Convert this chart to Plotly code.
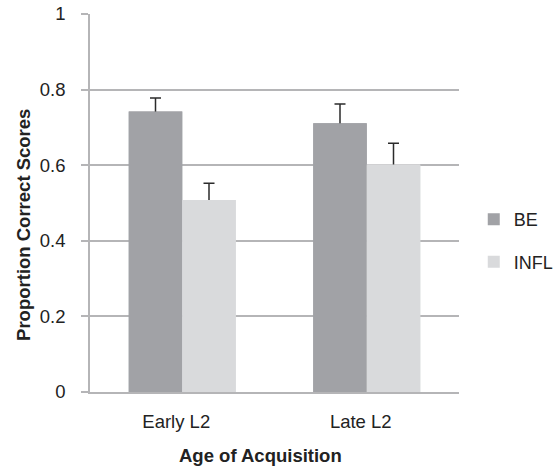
import plotly.graph_objects as go

categories = ["Early L2", "Late L2"]
be_values = [0.742, 0.711]
be_errors = [0.036, 0.051]
infl_values = [0.508, 0.602]
infl_errors = [0.044, 0.056]
y_ticks = [0, 0.2, 0.4, 0.6, 0.8, 1]

GRID = "#b5b5b7"
FONT = "Liberation Sans, Arial, sans-serif"
BE_COLOR = "#a1a2a6"
INFL_COLOR = "#d9dadc"

fig = go.Figure()
# bars carrying the error bars
for name, vals, errs, col, grp in [("BE", be_values, be_errors, BE_COLOR, "be"),
                                   ("INFL", infl_values, infl_errors, INFL_COLOR, "infl")]:
    fig.add_trace(go.Bar(
        name=name, x=categories, y=vals, marker_color=col, marker_line_width=0,
        offsetgroup=grp, showlegend=False, hoverinfo="skip",
        error_y=dict(type="data", array=errs, symmetric=True,
                     color="#2b2b2b", thickness=1.5, width=5.5),
    ))
# same bars drawn again on top so only the upper half of each error bar shows
for name, vals, col, grp in [("BE", be_values, BE_COLOR, "be"),
                             ("INFL", infl_values, INFL_COLOR, "infl")]:
    fig.add_trace(go.Bar(
        name=name, x=categories, y=vals, marker_color=col, marker_line_width=0,
        offsetgroup=grp, legendgroup=grp, showlegend=True,
    ))

fig.update_layout(
    width=557, height=466,
    margin=dict(l=90, r=98, t=14, b=74, autoexpand=False),
    paper_bgcolor="white", plot_bgcolor="white",
    barmode="group", bargap=0.42, bargroupgap=0,
    font=dict(family=FONT, size=18, color="#222222"),
    showlegend=True,
    legend=dict(x=1.04, y=0.505, xanchor="left", yanchor="top",
                traceorder="grouped", tracegroupgap=16,
                font=dict(size=18, color="#222222"),
                bgcolor="rgba(0,0,0,0)", itemwidth=30),
    xaxis=dict(showline=True, linecolor=GRID, linewidth=1.5, showgrid=False,
               ticks="", tickfont=dict(size=18.5), ticklabelstandoff=12,
               ticklabelshift=-6, automargin=False),
    yaxis=dict(range=[0, 1], tickvals=y_ticks, showline=True, linecolor=GRID,
               linewidth=1.5, showgrid=True, gridcolor=GRID, gridwidth=1.5,
               ticks="outside", ticklen=7, tickcolor=GRID, tickwidth=1.5,
               tickfont=dict(size=18.5), ticklabelstandoff=12, zeroline=False,
               automargin=False),
    annotations=[
        dict(text="<b>Proportion Correct Scores</b>", textangle=-90,
             xref="paper", yref="paper", x=0, y=0.442, xshift=-66,
             xanchor="center", yanchor="middle", showarrow=False,
             font=dict(size=18.5, color="#222222")),
        dict(text="<b>Age of Acquisition</b>",
             xref="paper", yref="paper", x=0.463, y=0, yshift=-63,
             xanchor="center", yanchor="middle", showarrow=False,
             font=dict(size=18.5, color="#222222")),
    ],
)

fig.write_html("out.html", config={"displayModeBar": False},
               post_script="document.body.style.margin='0';document.body.style.padding='0';")
